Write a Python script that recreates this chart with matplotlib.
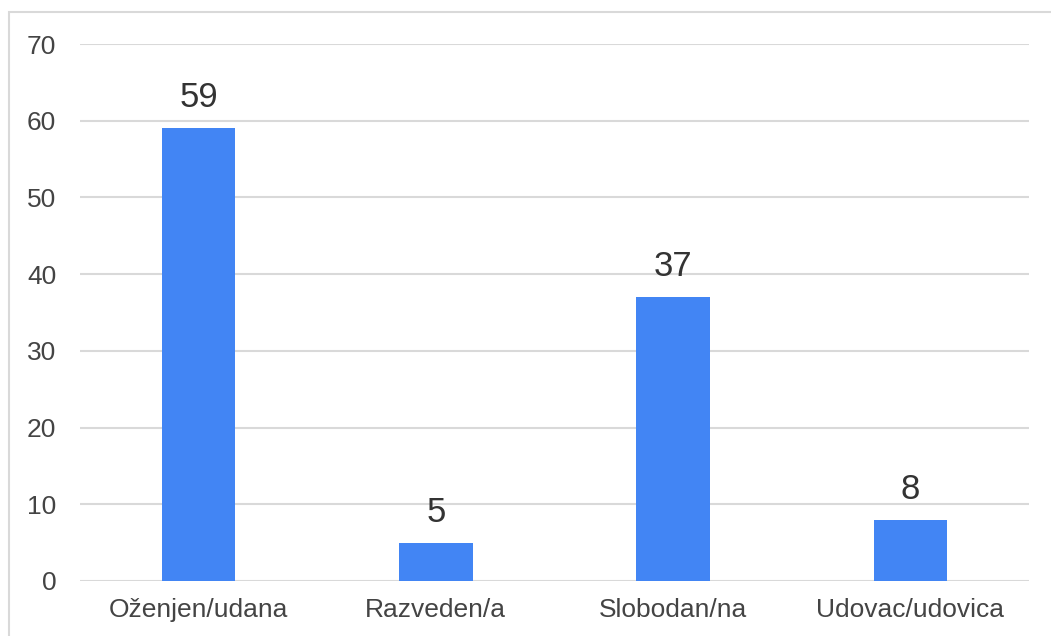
import numpy as np
import matplotlib.pyplot as plt
from matplotlib.patches import Rectangle

categories = ["Oženjen/udana", "Razveden/a", "Slobodan/na", "Udovac/udovica"]
values = [59, 5, 37, 8]
yticks = [0, 10, 20, 30, 40, 50, 60, 70]

plt.rcParams['font.family'] = ['Liberation Sans', 'DejaVu Sans']

fig = plt.figure(figsize=(10.51, 6.36), dpi=100)
ax = fig.add_axes([0.0761, 0.0865, 0.9029, 0.8443])

x = np.arange(len(categories))
ax.bar(x, values, width=0.31, color="#4285f4", zorder=3)
for xi, v in zip(x, values):
    ax.text(xi, v + 2.75, str(v), ha="center", va="baseline", fontsize=25, color="#333333")

ax.set_xlim(-0.5, len(categories) - 0.5)
ax.set_ylim(0, 70)
ax.set_yticks(yticks)
ax.set_xticks(x)
ax.set_xticklabels(categories)
ax.yaxis.grid(True, color="#d9d9d9", linewidth=1.5, zorder=0)
ax.tick_params(axis="y", length=0, pad=17, labelsize=19, labelcolor="#444444")
ax.tick_params(axis="x", length=0, pad=12, labelsize=19, labelcolor="#444444")
for s in ax.spines.values():
    s.set_visible(False)

# outer frame, cropped at right and bottom
fig.patches.append(Rectangle((0.0086, -0.05), 1.1, 1.031, transform=fig.transFigure,
                             fill=False, edgecolor="#d9d9d9", linewidth=1.5))

fig.savefig("out.png", dpi=100)
